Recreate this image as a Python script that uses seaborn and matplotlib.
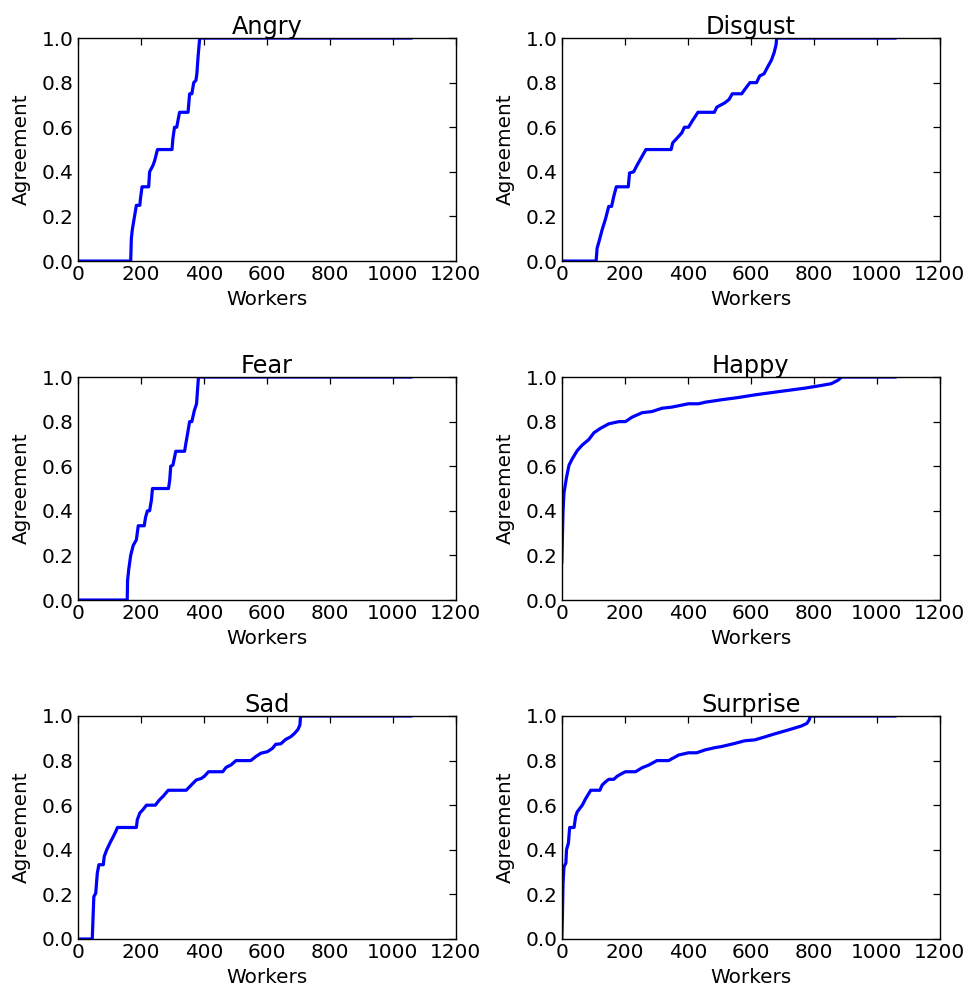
import pandas as pd
import seaborn as sns
import matplotlib
matplotlib.use("Agg")
import matplotlib.pyplot as plt

# sorted agreement per worker as (worker, agreement) vertices
emotions = ["Angry", "Disgust", "Fear", "Happy", "Sad", "Surprise"]

angry_x = [0, 168, 170, 173, 186, 197, 199, 204, 225, 228, 239, 244, 253, 299,
           302, 307, 314, 323, 350, 355, 362, 368, 375, 378, 382, 387, 1060]
angry_y = [0, 0, 0.10, 0.14, 0.25, 0.25, 0.28, 0.333, 0.333, 0.40, 0.43, 0.45, 0.50, 0.50,
           0.55, 0.60, 0.60, 0.667, 0.667, 0.75, 0.75, 0.80, 0.81, 0.84, 0.92, 1.0, 1.0]

disgust_x = [0, 109, 112, 118, 128, 139, 149, 158, 165, 173, 211, 215, 228, 239, 255,
             267, 347, 352, 365, 381, 389, 402, 415, 432, 484, 492, 518, 531, 541,
             571, 581, 597, 618, 628, 642, 655, 665, 674, 680, 682, 1060]
disgust_y = [0, 0, 0.057, 0.087, 0.14, 0.19, 0.245, 0.245, 0.29, 0.333, 0.333, 0.395,
             0.40, 0.43, 0.47, 0.50, 0.50, 0.53, 0.55, 0.575, 0.60, 0.60, 0.63, 0.667,
             0.667, 0.69, 0.71, 0.725, 0.75, 0.75, 0.77, 0.80, 0.80, 0.83, 0.84, 0.875,
             0.90, 0.935, 0.97, 1.0, 1.0]

fear_x = [0, 157, 158, 162, 168, 176, 186, 192, 211, 215, 221, 228, 234, 237, 288,
          292, 295, 302, 311, 339, 344, 349, 355, 362, 370, 377, 381, 383, 1060]
fear_y = [0, 0, 0.087, 0.14, 0.20, 0.245, 0.27, 0.333, 0.333, 0.37, 0.40, 0.40, 0.45,
          0.50, 0.50, 0.54, 0.60, 0.605, 0.667, 0.667, 0.71, 0.75, 0.80, 0.80, 0.85,
          0.88, 0.96, 1.0, 1.0]

happy_x = [0, 4, 7, 15, 23, 34, 49, 65, 86, 102, 123, 149, 181, 202, 223, 255, 286,
           318, 349, 402, 434, 455, 507, 560, 613, 665, 718, 771, 823, 855, 876, 888, 1060]
happy_y = [0.165, 0.40, 0.48, 0.55, 0.605, 0.635, 0.67, 0.695, 0.72, 0.75, 0.77, 0.79,
           0.80, 0.80, 0.82, 0.84, 0.845, 0.86, 0.865, 0.88, 0.88, 0.887, 0.898, 0.908,
           0.92, 0.93, 0.94, 0.95, 0.962, 0.97, 0.985, 1.0, 1.0]

sad_x = [0, 46, 51, 57, 62, 67, 81, 84, 92, 102, 113, 120, 126, 186, 189, 197, 207,
         218, 246, 260, 271, 287, 344, 360, 376, 392, 402, 415, 460, 471, 486, 502,
         549, 565, 581, 602, 618, 628, 644, 660, 676, 688, 699, 705, 707, 1060]
sad_y = [0, 0, 0.19, 0.205, 0.295, 0.333, 0.333, 0.37, 0.40, 0.43, 0.46, 0.48, 0.50,
         0.50, 0.535, 0.565, 0.58, 0.60, 0.60, 0.625, 0.64, 0.667, 0.667, 0.69, 0.713,
         0.72, 0.73, 0.75, 0.75, 0.77, 0.78, 0.80, 0.80, 0.818, 0.833, 0.84, 0.855,
         0.873, 0.875, 0.895, 0.907, 0.922, 0.94, 0.96, 1.0, 1.0]

surprise_x = [0, 2, 4, 7, 13, 15, 21, 25, 39, 44, 49, 65, 76, 92, 121, 128, 139, 149,
              165, 176, 192, 202, 234, 255, 276, 302, 339, 371, 402, 428, 455, 486,
              507, 549, 581, 613, 644, 676, 718, 760, 778, 786, 788, 1060]
surprise_y = [0, 0.1, 0.25, 0.325, 0.34, 0.40, 0.43, 0.50, 0.50, 0.55, 0.57, 0.60,
              0.63, 0.667, 0.667, 0.69, 0.705, 0.716, 0.716, 0.73, 0.743, 0.75, 0.75,
              0.768, 0.78, 0.80, 0.80, 0.825, 0.835, 0.835, 0.848, 0.858, 0.863, 0.877,
              0.889, 0.893, 0.906, 0.92, 0.937, 0.955, 0.967, 0.985, 1.0, 1.0]

series = {
    "Angry": (angry_x, angry_y),
    "Disgust": (disgust_x, disgust_y),
    "Fear": (fear_x, fear_y),
    "Happy": (happy_x, happy_y),
    "Sad": (sad_x, sad_y),
    "Surprise": (surprise_x, surprise_y),
}

sns.set_style("white")
plt.rcParams.update({
    "font.family": ["DejaVu Sans"],
    "font.size": 14.4,
    "text.color": "black",
    "axes.labelcolor": "black",
    "axes.edgecolor": "black",
    "axes.linewidth": 1.0,
    "xtick.color": "black",
    "ytick.color": "black",
})

fig, axes = plt.subplots(3, 2, figsize=(9.72, 9.88), dpi=100)
fig.subplots_adjust(left=0.080, right=0.967, top=0.9615, bottom=0.0496,
                    wspace=0.28, hspace=0.52)

for ax, name in zip(axes.flat, emotions):
    xs, ys = series[name]
    df = pd.DataFrame({"Workers": xs, "Agreement": ys})
    sns.lineplot(data=df, x="Workers", y="Agreement", ax=ax, sort=False,
                 estimator=None, color="#0000ff", linewidth=2.3)
    ax.set_xlim(0, 1200)
    ax.set_ylim(0, 1.0)
    ax.set_xticks(range(0, 1201, 200))
    ax.set_yticks([0.0, 0.2, 0.4, 0.6, 0.8, 1.0])
    ax.set_yticklabels(["0.0", "0.2", "0.4", "0.6", "0.8", "1.0"])
    ax.tick_params(direction="in", top=True, right=True, length=5, width=0.9,
                   labelsize=14.4, pad=3)
    ax.set_title(name, fontsize=17.3, pad=3)
    ax.set_xlabel("Workers", fontsize=14.4, labelpad=4)
    ax.set_ylabel("Agreement", fontsize=14.4, labelpad=8)

fig.savefig("out.png", dpi=100)
